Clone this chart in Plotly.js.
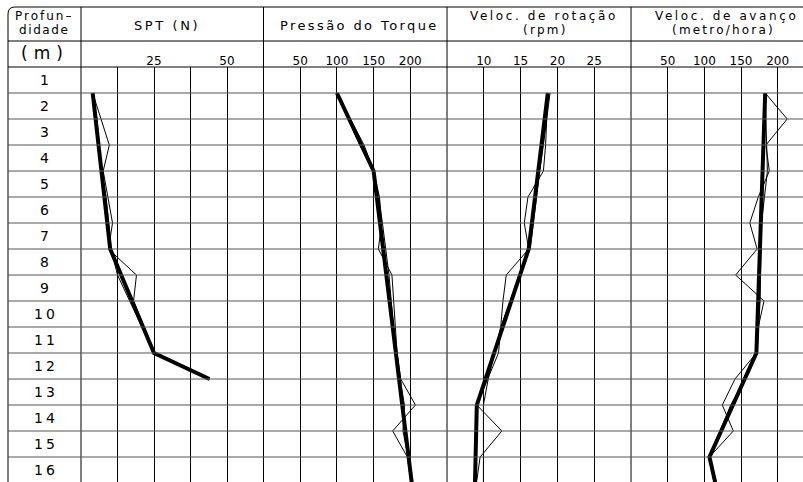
<!DOCTYPE html>
<html>
<head>
<meta charset="utf-8">
<script src="https://cdn.plot.ly/plotly-3.0.1.min.js"></script>
<style>
  html, body { margin: 0; padding: 0; background: #fff; }
  #chart { width: 803px; height: 482px; }
</style>
</head>
<body>
<div id="chart"></div>
<script>
// ---------------- DATA ----------------
const depthLabels = [1,2,3,4,5,6,7,8,9,10,11,12,13,14,15,16];

// SPT (N)
const sptTrendDepth = [1, 7, 11, 12];
const sptTrend      = [4, 10, 25, 44];
const sptADepth = [1, 3, 4, 6, 7, 8, 9, 11, 12];
const sptA      = [4, 9.7, 7.6, 10.8, 9.4, 19, 18, 25, 44];
const sptBDepth = [1, 2, 4, 5, 6, 7, 8, 11, 12];
const sptB      = [4, 5.5, 7, 8.6, 9.5, 10.3, 12.5, 25, 44];
const sptTicks  = [12.5, 25, 37.5, 50];
const sptText   = ['', '25', '', '50'];

// Pressão do Torque
const torTrendDepth = [1, 4, 16];
const torTrend      = [100, 150, 202];
const torADepth = [1, 3, 4, 5, 6, 7, 8, 11, 12, 13, 14, 15, 16];
const torA      = [100, 131, 150, 158, 161, 156.5, 175, 182, 187, 207, 176, 196, 201];
const torBDepth = [1, 2, 3, 4, 5, 6, 7, 8, 10, 11, 12, 13, 14, 15, 16];
const torB      = [100, 119, 137, 150, 157, 162, 166, 171, 177, 181, 186, 192, 190, 197, 201];
const torTicks  = [50, 100, 150, 200];
const torText   = ['50', '100', '150', '200'];

// Veloc. de rotação (rpm)
const rotTrendDepth = [1, 7, 13, 16];
const rotTrend      = [18.7, 16.1, 9.05, 8.8];
const rotADepth = [1, 3, 4, 5, 6, 7, 8, 9, 11, 13, 14, 15, 16];
const rotA      = [18.7, 18.4, 18.1, 16, 15.5, 16.1, 13.05, 12.6, 12.0, 9.05, 12.45, 9.5, 9.0];
const rotBDepth = [1, 2, 3, 4, 5, 6, 7, 8, 10, 12, 13, 14, 15, 16];
const rotB      = [19, 18.6, 18.1, 17.6, 17.2, 16.8, 16.3, 14.8, 12.3, 10.6, 9.95, 9.95, 9.95, 9.95];
const rotTicks  = [10, 15, 20, 25];
const rotText   = ['10', '15', '20', '25'];

// Veloc. de avanço (metro/hora)
const avaTrendDepth = [1, 11, 15, 16];
const avaTrend      = [183, 171, 107, 115];
const avaADepth = [1,2,3,4,5,6,7,8,9,10,11,12,13,14,15,16];
const avaA      = [183, 213, 184, 188.6, 173.6, 162, 172, 142.7, 181.4, 173.6, 171, 141.8, 124.5, 139.5, 107, 115];
const avaBDepth = [1, 4, 6, 9, 11, 12, 13, 14, 15, 16];
const avaB      = [183, 186, 178, 176, 172, 156, 136, 122, 107, 115];
const avaTicks  = [50, 100, 150, 200];
const avaText   = ['50', '100', '150', '200'];

// ---------------- LAYOUT GEOMETRY ----------------
const W = 803, H = 482;
const px = x => x / W;
const py = y => 1 - y / H;
const frameLeft = 8, frameTop = 7, head1 = 41, head2 = 67, rowH = 26;
const cols = [81, 263.5, 447, 631];
const FONT = 'DejaVu Sans, sans-serif';

function thin(x, y, ax) {
  return {x: x, y: y, xaxis: ax, yaxis: 'y', type: 'scatter', mode: 'lines',
          line: {color: '#000', width: 1}, hoverinfo: 'skip', showlegend: false};
}
function thick(x, y, ax) {
  return {x: x, y: y, xaxis: ax, yaxis: 'y', type: 'scatter', mode: 'lines',
          line: {color: '#000', width: 4}, hoverinfo: 'skip', showlegend: false};
}

const traces = [
  thin(sptA, sptADepth, 'x'), thin(sptB, sptBDepth, 'x'), thick(sptTrend, sptTrendDepth, 'x'),
  thin(torA, torADepth, 'x2'), thin(torB, torBDepth, 'x2'), thick(torTrend, torTrendDepth, 'x2'),
  thin(rotA, rotADepth, 'x3'), thin(rotB, rotBDepth, 'x3'), thick(rotTrend, rotTrendDepth, 'x3'),
  thin(avaA, avaADepth, 'x4'), thin(avaB, avaBDepth, 'x4'), thick(avaTrend, avaTrendDepth, 'x4')
];

function xax(domain, range, tickvals, ticktext) {
  return {
    domain: domain, range: range, anchor: 'free', position: py(head2), side: 'top',
    tickmode: 'array', tickvals: tickvals, ticktext: ticktext,
    ticks: '', showline: false, zeroline: false,
    showgrid: true, gridcolor: '#000', gridwidth: 1,
    tickfont: {family: FONT, size: 12, color: '#000'},
    fixedrange: true
  };
}

const layout = {
  width: W, height: H,
  margin: {l: 0, r: 0, t: 0, b: 0},
  paper_bgcolor: '#fff', plot_bgcolor: 'rgba(0,0,0,0)',
  showlegend: false,
  xaxis:  xax([px(cols[0]), px(cols[1])], [0, 62.5], sptTicks, sptText),
  xaxis2: xax([px(cols[1]), px(cols[2])], [0, 250], torTicks, torText),
  xaxis3: xax([px(cols[2]), px(cols[3])], [5, 30], rotTicks, rotText),
  xaxis4: xax([px(cols[3]), 1], [0, (W - cols[3]) / (36.667 / 50)], avaTicks, avaText),
  yaxis: {domain: [0, py(head2)], range: [(H - head2) / rowH, 0], visible: false,
          showgrid: false, zeroline: false, anchor: 'x', fixedrange: true},
  shapes: [],
  annotations: []
};

const lineStyle = {color: '#000', width: 1};
const rad = 7;
layout.shapes.push({type: 'path', xref: 'paper', yref: 'paper',
  path: `M ${px(frameLeft)} ${py(frameTop + rad)} Q ${px(frameLeft)} ${py(frameTop)} ${px(frameLeft + rad)} ${py(frameTop)}`,
  line: lineStyle});
layout.shapes.push({type: 'line', xref: 'paper', yref: 'paper',
  x0: px(frameLeft + rad), x1: 1, y0: py(frameTop), y1: py(frameTop), line: lineStyle});
layout.shapes.push({type: 'line', xref: 'paper', yref: 'paper',
  x0: px(frameLeft), x1: px(frameLeft), y0: py(frameTop + rad), y1: 0, line: lineStyle});
[head1, head2].forEach(yy => layout.shapes.push({type: 'line', xref: 'paper', yref: 'paper',
  x0: px(frameLeft), x1: 1, y0: py(yy), y1: py(yy), line: lineStyle}));
cols.forEach(cx => layout.shapes.push({type: 'line', xref: 'paper', yref: 'paper',
  x0: px(cx), x1: px(cx), y0: py(frameTop), y1: 0, line: lineStyle}));
depthLabels.forEach(d => layout.shapes.push({type: 'line', xref: 'paper', yref: 'y',
  x0: px(frameLeft), x1: 1, y0: d, y1: d, line: {color: '#555', width: 1}}));

function ann(text, x, y, size, spacing, yref) {
  return {text: `<span style="letter-spacing:${spacing}px">${text}</span>`,
          x: x + spacing / 2 / W, y: y, xref: 'paper', yref: yref || 'paper',
          xanchor: 'center', yanchor: 'middle', showarrow: false, borderpad: 0,
          font: {family: FONT, size: size, color: '#000'}};
}
// [text, centre x px, centre y px, font size, letter spacing]
const headers = [
  ['Profun\u2013', 43, 16, 12, 2.0], ['didade', 44, 30, 12, 1.6],
  ['SPT (N)', 166, 25, 13, 2.6],
  ['Pressão do Torque', 358, 25, 13, 2.4],
  ['Veloc. de rotação', 543, 16, 12, 2.6], ['(rpm)', 544, 30, 12, 2.2],
  ['Veloc. de avanço', 725, 16, 12, 2.6], ['(metro/hora)', 722, 30, 12, 2.2]
];
headers.forEach(h => layout.annotations.push(ann(h[0], px(h[1]), py(h[2]), h[3], h[4])));
layout.annotations.push(ann('(m)', px(42), py(53), 17, 6));
depthLabels.forEach(d => layout.annotations.push(ann(String(d), px(44), d - 0.5, 14, 3, 'y')));

Plotly.newPlot('chart', traces, layout, {staticPlot: true, displayModeBar: false});
</script>
</body>
</html>
